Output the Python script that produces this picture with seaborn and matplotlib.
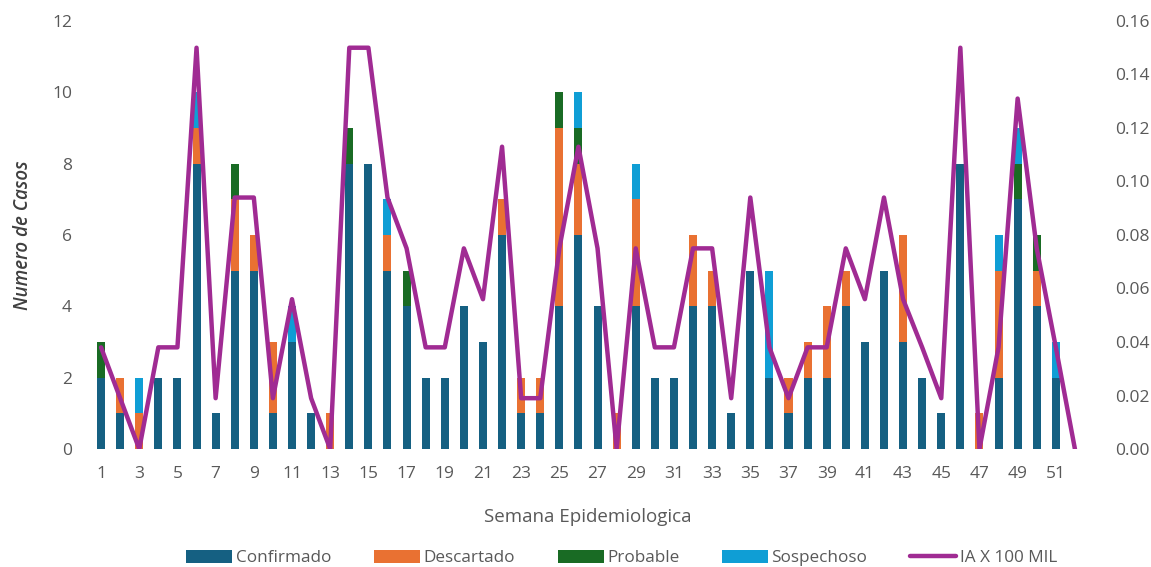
import numpy as np
import pandas as pd
import matplotlib
matplotlib.use("Agg")
import matplotlib.pyplot as plt
from matplotlib.patches import Patch
from matplotlib.lines import Line2D
import seaborn as sns

# Weekly case counts by classification
semanas = list(range(1, 53))
confirmado = [2, 1, 0, 2, 2, 8, 1, 5, 5, 1,
              3, 1, 0, 8, 8, 5, 4, 2, 2, 4,
              3, 6, 1, 1, 4, 6, 4, 0, 4, 2,
              2, 4, 4, 1, 5, 2, 1, 2, 2, 4,
              3, 5, 3, 2, 1, 8, 0, 2, 7, 4,
              2, 0]
descartado = [0, 1, 1, 0, 0, 1, 0, 2, 1, 2,
              0, 0, 1, 0, 0, 1, 0, 0, 0, 0,
              0, 1, 1, 1, 5, 2, 0, 1, 3, 0,
              0, 2, 1, 0, 0, 0, 1, 1, 2, 1,
              0, 0, 3, 0, 0, 0, 1, 3, 0, 1,
              0, 0]
probable = [1, 0, 0, 0, 0, 0, 0, 1, 0, 0,
            0, 0, 0, 1, 0, 0, 1, 0, 0, 0,
            0, 0, 0, 0, 1, 1, 0, 0, 0, 0,
            0, 0, 0, 0, 0, 0, 0, 0, 0, 0,
            0, 0, 0, 0, 0, 0, 0, 0, 1, 1,
            0, 0]
sospechoso = [0, 0, 1, 0, 0, 1, 0, 0, 0, 0,
              1, 0, 0, 0, 0, 1, 0, 0, 0, 0,
              0, 0, 0, 0, 0, 1, 0, 0, 1, 0,
              0, 0, 0, 0, 0, 3, 0, 0, 0, 0,
              0, 0, 0, 0, 0, 0, 0, 1, 1, 0,
              1, 0]
# Incidence rate per 100 000 inhabitants
ia_100mil = [0.038, 0.019, 0.000, 0.038, 0.038, 0.150, 0.019, 0.094, 0.094, 0.019,
             0.056, 0.019, 0.000, 0.150, 0.150, 0.094, 0.075, 0.038, 0.038, 0.075,
             0.056, 0.113, 0.019, 0.019, 0.075, 0.113, 0.075, 0.000, 0.075, 0.038,
             0.038, 0.075, 0.075, 0.019, 0.094, 0.038, 0.019, 0.038, 0.038, 0.075,
             0.056, 0.094, 0.056, 0.038, 0.019, 0.150, 0.000, 0.038, 0.131, 0.075,
             0.038, 0.000]

series_names = ["Confirmado", "Descartado", "Probable", "Sospechoso"]
series_colors = ["#156082", "#E97132", "#196B24", "#0F9ED5"]
line_name = "IA X 100 MIL"
line_color = "#A02B93"

sns.set_theme(style="white")
plt.rcParams["font.family"] = ["Open Sans", "DejaVu Sans"]
text_color = "#595959"

df = pd.DataFrame({
    "semana": [str(s) for s in semanas],
    "pos": np.arange(len(semanas)),
    "Confirmado": confirmado,
    "Descartado": descartado,
    "Probable": probable,
    "Sospechoso": sospechoso,
    "ia": ia_100mil,
})

fig = plt.figure(figsize=(11.51, 5.67), dpi=100)
ax = fig.add_axes([0.0795, 0.2081, 0.8627, 0.7549])

# Stacked bars: draw cumulative totals from the top layer down
cum = np.zeros(len(semanas))
cums = []
for name in series_names:
    cum = cum + df[name].to_numpy()
    cums.append(cum.copy())
for name, color, top in reversed(list(zip(series_names, series_colors, cums))):
    sns.barplot(x=df["semana"], y=top, color=color, width=0.42,
                errorbar=None, linewidth=0, saturation=1, ax=ax,
                order=df["semana"].tolist())

ax.set_ylim(0, 12)
ax.set_xlim(-0.5, len(semanas) - 0.5)
ax.set_yticks(np.arange(0, 13, 2))
ax.set_xticks(np.arange(0, len(semanas), 2))
ax.set_xticklabels([str(s) for s in semanas[::2]])
ax.tick_params(axis="both", length=0, labelsize=12.5, labelcolor=text_color)
ax.tick_params(axis="y", pad=14)
ax.tick_params(axis="x", pad=12)
ax.set_xlabel("Semana Epidemiologica", fontsize=13.5, color=text_color, labelpad=19)
ax.set_ylabel("Numero de Casos", fontsize=13.5, color="#404040",
              style="italic", fontweight="semibold", labelpad=14)

ax2 = ax.twinx()
sns.lineplot(x=df["pos"], y=df["ia"], color=line_color, linewidth=3.2,
             ax=ax2, solid_joinstyle="round", solid_capstyle="round")
ax2.set_ylim(0, 0.16)
ax2.set_yticks(np.arange(0, 0.161, 0.02))
ax2.set_yticklabels([f"{v:.2f}" for v in np.arange(0, 0.161, 0.02)])
ax2.set_ylabel("")
ax2.tick_params(axis="y", length=0, labelsize=12.5, labelcolor=text_color, pad=22)
ax.set_xlim(-0.5, len(semanas) - 0.5)

for a in (ax, ax2):
    for sp in a.spines.values():
        sp.set_visible(False)
    a.grid(False)

handles = [Patch(facecolor=c, edgecolor="none", label=n)
           for n, c in zip(series_names, series_colors)]
handles.append(Line2D([0], [0], color=line_color, linewidth=3.2,
                      solid_capstyle="round", label=line_name))
fig.legend(handles=handles, loc="center", bbox_to_anchor=(0.54, 0.016),
           ncol=5, frameon=False, fontsize=12.3, handlelength=2.7,
           handleheight=0.8, columnspacing=2.5, handletextpad=0.2,
           labelcolor=text_color)

fig.savefig("out.png", dpi=100)
